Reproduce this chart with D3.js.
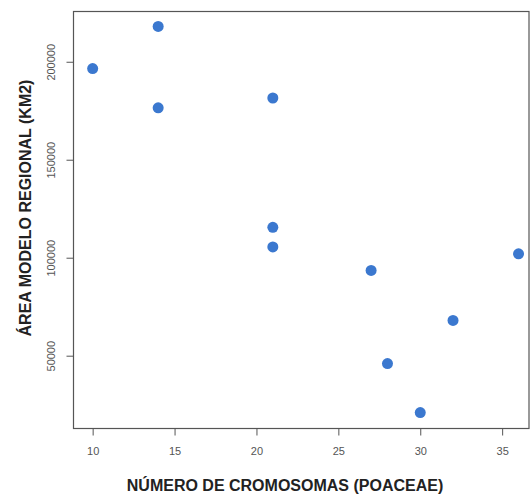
<!DOCTYPE html>
<html>
<head>
<meta charset="utf-8">
<script src="https://cdn.jsdelivr.net/npm/d3@7"></script>
<style>
  body { margin: 0; background: #fff; }
  svg { display: block; }
</style>
</head>
<body>
<div id="chart"></div>
<script>
// chromosome number (Poaceae) vs regional model area (km2)
const cromosomas = [10, 14, 14, 21, 21, 21, 27, 28, 30, 32, 36];
const area = [196500, 218000, 176500, 181500, 115500, 105500, 93500, 46000, 21000, 68000, 102000];
const xTicks = [10, 15, 20, 25, 30, 35];
const yTicks = [50000, 100000, 150000, 200000];
const xTitle = "NÚMERO DE CROMOSOMAS (POACEAE)";
const yTitle = "ÁREA MODELO REGIONAL (KM2)";

const width = 531, height = 495;
const margin = {top: 11, right: 1, bottom: 67, left: 73};

const svg = d3.select("#chart").append("svg")
  .attr("width", width)
  .attr("height", height);

const x = d3.scaleLinear()
  .domain([8.8, 36.7])
  .range([margin.left, width - margin.right]);

const y = d3.scaleLinear()
  .domain([13100, 225900])
  .range([height - margin.bottom, margin.top]);

// box
svg.append("rect")
  .attr("x", margin.left + 0.5)
  .attr("y", margin.top + 0.5)
  .attr("width", width - margin.left - margin.right - 1.5)
  .attr("height", height - margin.top - margin.bottom)
  .attr("fill", "none")
  .attr("stroke", "#555")
  .attr("stroke-width", 1.2);

// x axis
const xAxis = svg.append("g")
  .attr("transform", `translate(0,${height - margin.bottom + 0.5})`)
  .call(d3.axisBottom(x).tickValues(xTicks).tickSize(7).tickPadding(12));
xAxis.select(".domain").remove();
xAxis.selectAll("line").attr("stroke", "#555");
xAxis.selectAll("text")
  .attr("fill", "#555")
  .style("font-family", "Liberation Sans, Arial, sans-serif")
  .style("font-size", "11px");

// y axis, labels rotated like R's las = 0
const yAxis = svg.append("g")
  .attr("transform", `translate(${margin.left + 0.5},0)`)
  .call(d3.axisLeft(y).tickValues(yTicks).tickSize(7).tickFormat(d3.format("d")));
yAxis.select(".domain").remove();
yAxis.selectAll("line").attr("stroke", "#555");
yAxis.selectAll("text")
  .attr("fill", "#555")
  .attr("x", 0).attr("y", 0).attr("dy", null)
  .attr("text-anchor", "middle")
  .attr("transform", "translate(-19,0) rotate(-90)")
  .style("font-family", "Liberation Sans, Arial, sans-serif")
  .style("font-size", "11px");

// points
svg.append("g")
  .selectAll("circle")
  .data(cromosomas.map((c, i) => ({c, a: area[i]})))
  .join("circle")
  .attr("cx", d => x(d.c))
  .attr("cy", d => y(d.a))
  .attr("r", 5.5)
  .attr("fill", "#3b78cf");

// titles
svg.append("text")
  .attr("x", 285)
  .attr("y", 491)
  .attr("text-anchor", "middle")
  .style("font-family", "Liberation Sans, Arial, sans-serif")
  .style("font-weight", "bold")
  .style("font-size", "16px")
  .attr("fill", "#222")
  .text(xTitle);

svg.append("text")
  .attr("transform", "translate(31,208) rotate(-90)")
  .attr("text-anchor", "middle")
  .style("font-family", "Liberation Sans, Arial, sans-serif")
  .style("font-weight", "bold")
  .style("font-size", "16px")
  .attr("fill", "#222")
  .text(yTitle);
</script>
</body>
</html>
